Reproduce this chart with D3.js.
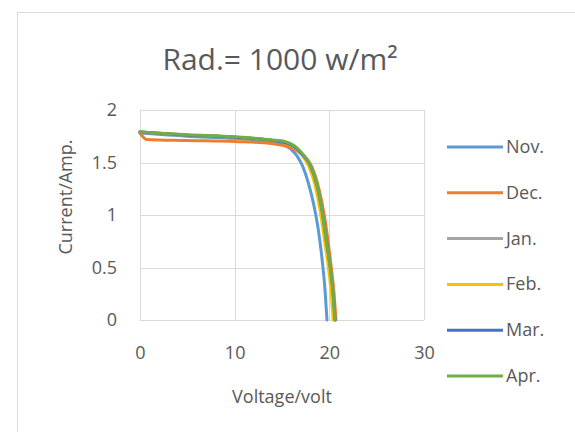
<!DOCTYPE html>
<html>
<head>
<meta charset="utf-8">
<script src="https://cdn.jsdelivr.net/npm/d3@7"></script>
<style>
  html, body { margin: 0; padding: 0; background: #fff; }
  svg { display: block; }
  text { font-family: "Open Sans", sans-serif; fill: #595959; }
</style>
</head>
<body>
<svg id="chart" width="575" height="432"></svg>
<script>
// ---- data ----
const title = "Rad.= 1000 w/m²";
const xTicks = [0, 10, 20, 30];
const yTicks = [0, 0.5, 1, 1.5, 2];
const months = ["Nov.", "Dec.", "Jan.", "Feb.", "Mar.", "Apr."];
const colors = ["#5B9BD5", "#ED7D31", "#A5A5A5", "#FFC000", "#4472C4", "#70AD47"];

const novV = [0, 5, 10, 14, 15, 15.9, 16.6, 17.2, 17.8, 18.4, 18.9, 19.3, 19.55, 19.75];
const novI = [1.78, 1.75, 1.73, 1.70, 1.68, 1.63, 1.56, 1.46, 1.30, 1.08, 0.82, 0.52, 0.28, 0];
const decV = [0, 0.7, 5, 10, 14, 15.3, 16.4, 17.3, 18.2, 18.9, 19.5, 20.2, 20.5, 20.7];
const decI = [1.78, 1.72, 1.71, 1.70, 1.68, 1.66, 1.62, 1.56, 1.45, 1.25, 0.98, 0.5, 0.25, 0];
const janV = [0, 5, 10, 14, 15.3, 16.3, 17.1, 18.0, 18.7, 19.3, 19.7, 20.1, 20.4, 20.6];
const janI = [1.79, 1.76, 1.74, 1.71, 1.69, 1.65, 1.58, 1.47, 1.28, 1.0, 0.75, 0.5, 0.25, 0];
const febV = [0, 5, 10, 14, 15.2, 16.2, 17.0, 17.8, 18.5, 19.1, 19.5, 19.9, 20.2, 20.4];
const febI = [1.79, 1.76, 1.74, 1.71, 1.69, 1.65, 1.58, 1.47, 1.28, 1.0, 0.75, 0.5, 0.25, 0];
const marV = [0, 5, 10, 14, 15.3, 16.3, 17.1, 18.0, 18.7, 19.3, 19.7, 20.1, 20.4, 20.6];
const marI = [1.79, 1.76, 1.74, 1.71, 1.69, 1.65, 1.58, 1.47, 1.28, 1.0, 0.75, 0.5, 0.25, 0];
const aprV = [0, 5, 10, 14, 15.3, 16.3, 17.1, 18.0, 18.7, 19.3, 19.7, 20.1, 20.4, 20.6];
const aprI = [1.79, 1.765, 1.745, 1.715, 1.70, 1.66, 1.59, 1.48, 1.29, 1.0, 0.75, 0.5, 0.25, 0];

const seriesV = [novV, decV, janV, febV, marV, aprV];
const seriesI = [novI, decI, janI, febI, marI, aprI];

// ---- drawing ----
const svg = d3.select("#chart");

// chart frame (extends beyond right/bottom edges)
svg.append("rect")
  .attr("x", 17.5).attr("y", 12.5)
  .attr("width", 600).attr("height", 460)
  .attr("fill", "#fff").attr("stroke", "#d9d9d9").attr("stroke-width", 1);

const plot = { left: 140, right: 424, top: 110, bottom: 320 };
const x = d3.scaleLinear().domain([0, 30]).range([plot.left, plot.right]);
const y = d3.scaleLinear().domain([0, 2]).range([plot.bottom, plot.top]);

// gridlines
svg.append("g").selectAll("line").data(yTicks).join("line")
  .attr("x1", plot.left).attr("x2", plot.right)
  .attr("y1", d => Math.round(y(d)) + 0.5).attr("y2", d => Math.round(y(d)) + 0.5)
  .attr("stroke", "#d9d9d9").attr("stroke-width", 1);
svg.append("g").selectAll("line").data(xTicks).join("line")
  .attr("y1", plot.top).attr("y2", plot.bottom)
  .attr("x1", d => Math.round(x(d)) + 0.5).attr("x2", d => Math.round(x(d)) + 0.5)
  .attr("stroke", "#d9d9d9").attr("stroke-width", 1);

// axes labels via d3 axes (no lines)
const xAxis = svg.append("g")
  .attr("transform", `translate(0,${plot.bottom})`)
  .call(d3.axisBottom(x).tickValues(xTicks).tickSize(0).tickPadding(39));
xAxis.select(".domain").remove();
xAxis.selectAll("text").attr("font-family", "Open Sans").attr("font-size", 18).attr("fill", "#595959").attr("dy", "0");

const yAxis = svg.append("g")
  .attr("transform", `translate(${plot.left},0)`)
  .call(d3.axisLeft(y).tickValues(yTicks).tickSize(0).tickPadding(23).tickFormat(d3.format("")));
yAxis.select(".domain").remove();
yAxis.selectAll("text").attr("font-family", "Open Sans").attr("font-size", 18).attr("fill", "#595959");

// lines
const line = d3.line().x(d => x(d[0])).y(d => y(d[1])).curve(d3.curveMonotoneX);
seriesV.forEach((vs, k) => {
  const pts = vs.map((v, i) => [v, seriesI[k][i]]);
  svg.append("path")
    .attr("d", line(pts))
    .attr("fill", "none")
    .attr("stroke", colors[k])
    .attr("stroke-width", 3)
    .attr("stroke-linejoin", "round")
    .attr("stroke-linecap", "round");
});

// title
svg.append("text")
  .attr("x", 280).attr("y", 70)
  .attr("text-anchor", "middle")
  .attr("font-size", 30)
  .text(title);

// axis titles
svg.append("text")
  .attr("x", 282).attr("y", 403)
  .attr("text-anchor", "middle")
  .attr("font-size", 18)
  .text("Voltage/volt");
svg.append("text")
  .attr("transform", "translate(72,197) rotate(-90)")
  .attr("text-anchor", "middle")
  .attr("font-size", 18)
  .text("Current/Amp.");

// legend
const legendY0 = 147, legendStep = 45.8;
const lg = svg.append("g");
months.forEach((m, k) => {
  const ly = legendY0 + k * legendStep;
  lg.append("line")
    .attr("x1", 447).attr("x2", 503)
    .attr("y1", ly).attr("y2", ly)
    .attr("stroke", colors[k]).attr("stroke-width", 3);
  lg.append("text")
    .attr("x", 506).attr("y", ly + 6)
    .attr("font-size", 18)
    .text(m);
});
</script>
</body>
</html>
